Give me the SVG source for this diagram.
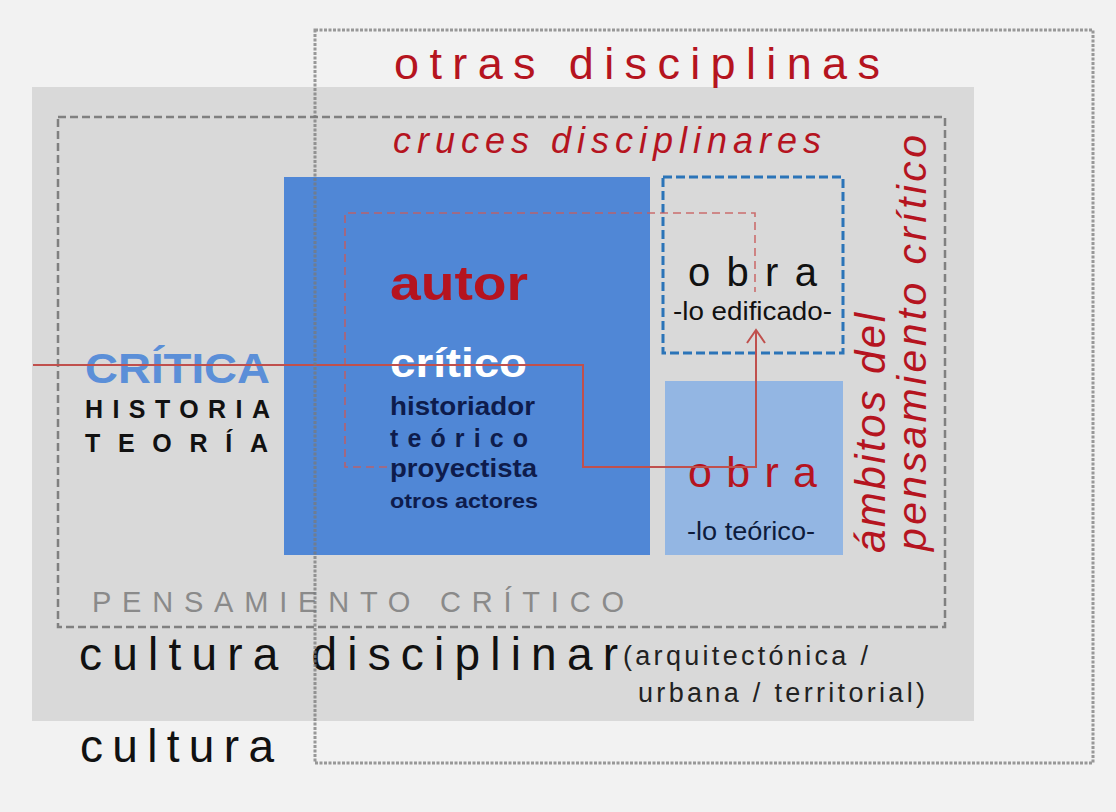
<svg xmlns="http://www.w3.org/2000/svg" width="1116" height="812" viewBox="0 0 1116 812">
<defs>
<style>
text{font-family:"Liberation Sans",Arial,sans-serif}
.red{fill:#b5141f}
.b{font-weight:bold}
.navy{fill:#0e1c4c;font-weight:bold}
</style>
</defs>
<rect width="1116" height="812" fill="#f2f2f2"/>
<g id="cultura-disciplinar">
<rect x="32" y="87" width="942" height="634" fill="#d9d9d9"/>
<text x="79" y="670" font-size="46" fill="#111" textLength="539" lengthAdjust="spacing">cultura disciplinar</text>
<text x="623" y="665" font-size="27" fill="#222" textLength="245" lengthAdjust="spacing">(arquitectónica /</text>
<text x="638" y="702" font-size="27" fill="#222" textLength="287" lengthAdjust="spacing">urbana / territorial)</text>
</g>
<g id="cultura">
<text x="80" y="762" font-size="46" fill="#111" textLength="194" lengthAdjust="spacing">cultura</text>
</g>
<g id="pensamiento-critico">
<rect x="58" y="117" width="887" height="510" fill="none" stroke="#808080" stroke-width="2.5" stroke-dasharray="8 4"/>
<text x="92" y="612" font-size="29" fill="#8a8a8a" textLength="532" lengthAdjust="spacing">PENSAMIENTO CRÍTICO</text>
<text x="393" y="153" font-size="36" font-style="italic" class="red" textLength="428" lengthAdjust="spacing">cruces  disciplinares</text>
<text transform="translate(885,553) rotate(-90)" font-size="42" font-style="italic" class="red" textLength="240" lengthAdjust="spacing">ámbitos del</text>
<text transform="translate(926,551) rotate(-90)" font-size="41" font-style="italic" class="red" textLength="416" lengthAdjust="spacing">pensamiento  crítico</text>
</g>
<g id="otras-disciplinas">
<text x="394" y="79" font-size="45" class="red" textLength="486" lengthAdjust="spacing">otras  disciplinas</text>
</g>
<g id="critica">
<text x="85" y="383" font-size="42" class="b" fill="#5b8fd8" textLength="185" lengthAdjust="spacingAndGlyphs">CRÍTICA</text>
<text x="85" y="418" font-size="25" class="b" fill="#111" textLength="185" lengthAdjust="spacing">HISTORIA</text>
<text x="85" y="452" font-size="25" class="b" fill="#111" textLength="183" lengthAdjust="spacing">TEORÍA</text>
</g>
<g id="autor">
<rect x="284" y="177" width="366" height="378" fill="#5087d6"/>
<text x="390" y="300" font-size="48" class="b red" textLength="138" lengthAdjust="spacingAndGlyphs">autor</text>
<text x="390" y="377" font-size="40" class="b" fill="#ffffff" textLength="137" lengthAdjust="spacingAndGlyphs">crítico</text>
<text x="390" y="415" font-size="25" class="navy" textLength="145" lengthAdjust="spacingAndGlyphs">historiador</text>
<text x="390" y="447" font-size="25" class="navy" textLength="138" lengthAdjust="spacing">teórico</text>
<text x="390" y="477" font-size="25" class="navy" textLength="147" lengthAdjust="spacingAndGlyphs">proyectista</text>
<text x="390" y="508" font-size="21" class="navy" textLength="148" lengthAdjust="spacingAndGlyphs">otros  actores</text>
</g>
<g id="obra-edificado">
<rect x="663" y="177" width="180" height="176" fill="none" stroke="#2b74b8" stroke-width="3" stroke-dasharray="9 4"/>
<text x="688" y="286" font-size="40" fill="#111" textLength="129" lengthAdjust="spacing">o b r a</text>
<text x="673" y="320" font-size="25" fill="#111" textLength="159" lengthAdjust="spacingAndGlyphs">-lo edificado-</text>
</g>
<g id="obra-teorico">
<rect x="665" y="381" width="178" height="174" fill="#93b6e3"/>
<text x="688" y="487" font-size="43" class="red" textLength="129" lengthAdjust="spacing">o b r a</text>
<text x="687" y="540" font-size="25" fill="#0e1c3c" textLength="128" lengthAdjust="spacingAndGlyphs">-lo teórico-</text>
</g>
<g id="connectors">
<path d="M387,467 H345 V213 H755 V292" fill="none" stroke="#c85a5a" stroke-width="1.6" stroke-dasharray="8 5" opacity="0.85"/>
<path d="M33,365 H583 V467 H756 V330" fill="none" stroke="#c0504d" stroke-width="2"/>
<path d="M747,343 L756,330 L765,343" fill="none" stroke="#c0504d" stroke-width="2"/>
</g>
<g id="otras-disciplinas-frame">
<rect x="315" y="30" width="778" height="733" fill="none" stroke="#7a7a7a" stroke-width="3" stroke-dasharray="3 1.5" opacity="0.75"/>
</g>
</svg>
